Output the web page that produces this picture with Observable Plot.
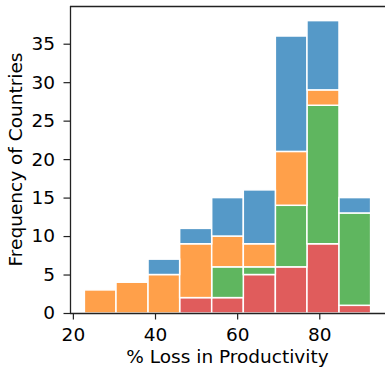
<!DOCTYPE html>
<html>
<head>
<meta charset="utf-8">
<script src="https://cdn.jsdelivr.net/npm/d3@7"></script>
<script src="https://cdn.jsdelivr.net/npm/@observablehq/plot@0.6"></script>
<style>
  html, body { margin: 0; padding: 0; background: #fff; }
  #chart svg { display: block; }
</style>
</head>
<body>
<div id="chart"></div>
<script>
// Bin edges (% loss in productivity)
const binStart = [22.8, 30.5, 38.3, 46.0, 53.8, 61.5, 69.3, 77.0, 84.8];
const binEnd   = [30.5, 38.3, 46.0, 53.8, 61.5, 69.3, 77.0, 84.8, 92.5];

// Series (stacked bottom to top)
const seriesNames = ["Group A", "Group B", "Group C", "Group D"];
const seriesColors = ["#e05c5c", "#5fb65f", "#ffa04a", "#5599c8"];
const groupA = [0, 0, 0, 2, 2, 5, 6, 9, 1];   // red
const groupB = [0, 0, 0, 0, 4, 1, 8, 18, 12]; // green
const groupC = [3, 4, 5, 7, 4, 3, 7, 2, 0];   // orange
const groupD = [0, 0, 2, 2, 5, 7, 15, 9, 2];  // blue

const yTicks = [0, 5, 10, 15, 20, 25, 30, 35];
const xTicks = [20, 40, 60, 80];

const seriesValues = [groupA, groupB, groupC, groupD];
const data = [];
seriesValues.forEach((vals, s) => {
  vals.forEach((v, i) => {
    data.push({x1: binStart[i], x2: binEnd[i], count: v, series: seriesNames[s]});
  });
});

const W = 385, H = 369;
const mL = 70, mR = 0, mT = 6, mB = 56;
const FS = 18.5;

const plot = Plot.plot({
  width: W,
  height: H,
  marginLeft: mL,
  marginRight: mR,
  marginTop: mT,
  marginBottom: mB,
  style: {fontFamily: "DejaVu Sans", fontSize: FS + "px", color: "#000", background: "#fff"},
  x: {domain: [19.3, 96.0]},
  y: {domain: [0, 39.9]},
  color: {domain: seriesNames, range: seriesColors},
  marks: [
    Plot.rectY(data, {
      x1: "x1", x2: "x2", y: "count", fill: "series",
      order: seriesNames,
      stroke: "#fff", strokeWidth: 1.5
    }),
    Plot.axisX({ticks: xTicks, tickSize: 6.5, tickPadding: 8, fontSize: FS, label: null, stroke: "#222", strokeWidth: 1.2}),
    Plot.axisY({ticks: yTicks, tickSize: 6.5, tickPadding: 9, fontSize: FS, label: null, stroke: "#222", strokeWidth: 1.2}),
    Plot.ruleY([0], {stroke: "#222", strokeWidth: 1.3}),
    Plot.ruleX([19.3], {stroke: "#222", strokeWidth: 1.3}),
    Plot.ruleY([39.9], {stroke: "#222", strokeWidth: 1.3})
  ]
});

document.getElementById("chart").appendChild(plot);

const svg = d3.select(plot);
svg.append("text")
  .attr("x", (mL + W - mR) / 2)
  .attr("y", 363)
  .attr("text-anchor", "middle")
  .attr("font-family", "DejaVu Sans")
  .attr("font-size", FS)
  .attr("fill", "#000")
  .text("% Loss in Productivity");
svg.append("text")
  .attr("transform", `translate(22,${(mT + H - mB) / 2}) rotate(-90)`)
  .attr("text-anchor", "middle")
  .attr("font-family", "DejaVu Sans")
  .attr("font-size", FS)
  .attr("fill", "#000")
  .text("Frequency of Countries");
</script>
</body>
</html>
